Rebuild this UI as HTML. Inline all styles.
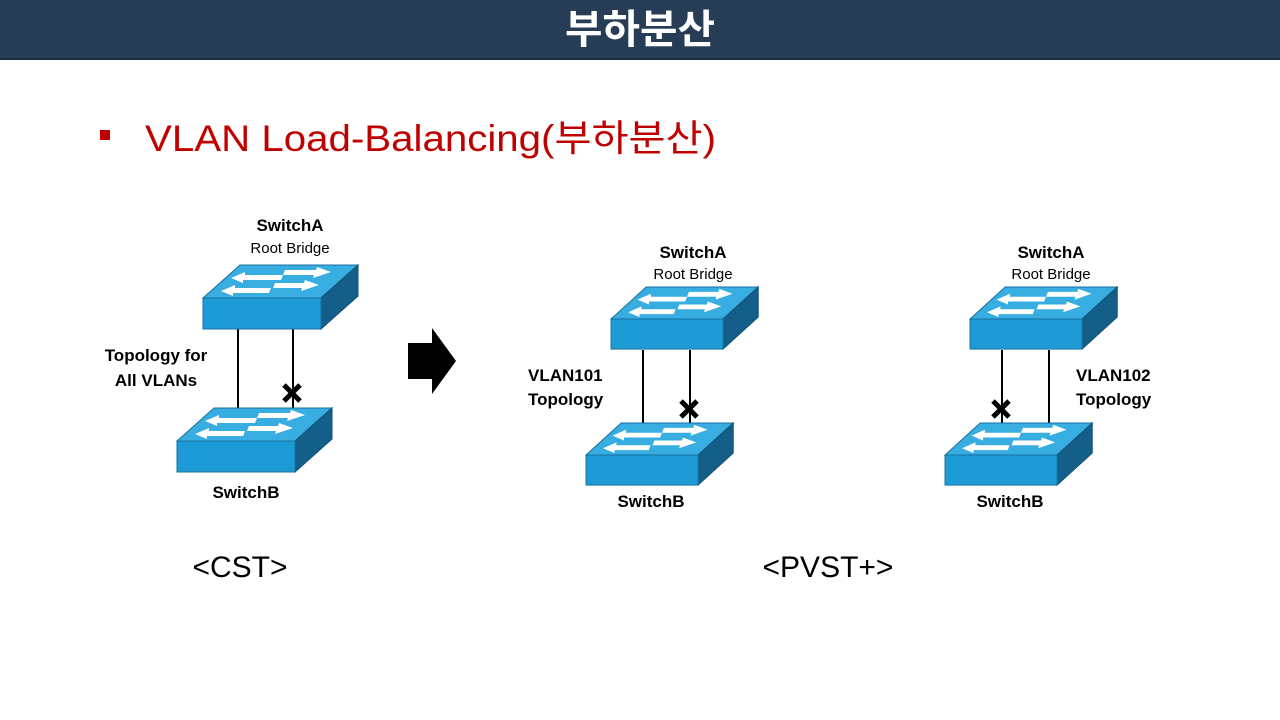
<!DOCTYPE html>
<html><head><meta charset="utf-8"><style>
body{margin:0;width:1280px;height:720px;background:#fff;overflow:hidden;font-family:"Liberation Sans","Noto Sans CJK KR",sans-serif}
</style></head><body>
<svg width="1280" height="720" viewBox="0 0 1280 720" xmlns="http://www.w3.org/2000/svg" style="position:absolute;left:0;top:0">
<defs>
<g id="sw">
  <polygon points="0,0 118,0 155,-33 37,-33" fill="#38ade2" stroke="#1a6f9a" stroke-width="1"/>
  <polygon points="118,0 155,-33 155,-2 118,31" fill="#135f8a" stroke="#0f4f75" stroke-width="1"/>
  <rect x="0" y="0" width="118" height="31" fill="#1d9bd7" stroke="#16709e" stroke-width="1"/>
  <g fill="#fff">
    <polygon points="28,-20 42,-26 42,-23 80,-23 78,-18 40,-18 40,-15"/>
    <polygon points="128,-26 114,-31 113,-28 82,-28 80,-23 111,-23 110,-20"/>
    <polygon points="18,-7 32,-13 32,-10 68,-10 66,-5 30,-5 30,-2"/>
    <polygon points="116,-13 102,-18 101,-15 72,-15 70,-10 99,-10 98,-7"/>
  </g>
</g>
<g id="x"><path d="M-8,-8 L8,8 M8,-8 L-8,8" stroke="#000" stroke-width="5"/></g>
</defs>
<rect x="0" y="0" width="1280" height="59" fill="#273c55"/>
<rect x="0" y="58" width="1280" height="2" fill="#1a2a3c"/>
<text x="640" y="43" text-anchor="middle" fill="#fff" font-size="40" font-weight="bold" font-family="Noto Sans CJK KR,sans-serif" textLength="150" lengthAdjust="spacingAndGlyphs">부하분산</text>
<rect x="100" y="130" width="10" height="10" fill="#c00000"/>
<text x="145" y="151" fill="#c00000" font-size="37" font-family="Liberation Sans,Noto Sans CJK KR,sans-serif" textLength="571" lengthAdjust="spacingAndGlyphs">VLAN Load-Balancing(부하분산)</text>

<!-- CST -->
<text x="290" y="231" text-anchor="middle" font-size="17" font-weight="bold">SwitchA</text>
<text x="290" y="253" text-anchor="middle" font-size="15">Root Bridge</text>
<line x1="238" y1="329" x2="238" y2="410" stroke="#000" stroke-width="2"/>
<line x1="293" y1="329" x2="293" y2="410" stroke="#000" stroke-width="2"/>
<use href="#sw" x="203" y="298"/>
<use href="#sw" x="177" y="441"/>
<use href="#x" x="292" y="393"/>
<text x="156" y="361" text-anchor="middle" font-size="17" font-weight="bold">Topology for</text>
<text x="156" y="386" text-anchor="middle" font-size="17" font-weight="bold">All VLANs</text>
<text x="246" y="498" text-anchor="middle" font-size="17" font-weight="bold">SwitchB</text>
<text x="240" y="577" text-anchor="middle" font-size="30">&lt;CST&gt;</text>

<polygon points="408,343 432,343 432,328 456,361 432,394 432,379 408,379" fill="#000"/>

<!-- PVST 1 -->
<text x="693" y="258" text-anchor="middle" font-size="17" font-weight="bold">SwitchA</text>
<text x="693" y="279" text-anchor="middle" font-size="15">Root Bridge</text>
<line x1="643" y1="350" x2="643" y2="428" stroke="#000" stroke-width="2"/>
<line x1="690" y1="350" x2="690" y2="428" stroke="#000" stroke-width="2"/>
<use href="#sw" transform="translate(611,319) scale(0.95,0.97)"/>
<use href="#sw" transform="translate(586,455) scale(0.95,0.97)"/>
<use href="#x" x="689" y="409"/>
<text x="528" y="381" font-size="17" font-weight="bold">VLAN101</text>
<text x="528" y="405" font-size="17" font-weight="bold">Topology</text>
<text x="651" y="507" text-anchor="middle" font-size="17" font-weight="bold">SwitchB</text>

<!-- PVST 2 -->
<text x="1051" y="258" text-anchor="middle" font-size="17" font-weight="bold">SwitchA</text>
<text x="1051" y="279" text-anchor="middle" font-size="15">Root Bridge</text>
<line x1="1002" y1="350" x2="1002" y2="428" stroke="#000" stroke-width="2"/>
<line x1="1049" y1="350" x2="1049" y2="428" stroke="#000" stroke-width="2"/>
<use href="#sw" transform="translate(970,319) scale(0.95,0.97)"/>
<use href="#sw" transform="translate(945,455) scale(0.95,0.97)"/>
<use href="#x" x="1001" y="409"/>
<text x="1076" y="381" font-size="17" font-weight="bold">VLAN102</text>
<text x="1076" y="405" font-size="17" font-weight="bold">Topology</text>
<text x="1010" y="507" text-anchor="middle" font-size="17" font-weight="bold">SwitchB</text>

<text x="828" y="577" text-anchor="middle" font-size="30">&lt;PVST+&gt;</text>
</svg>
</body></html>
